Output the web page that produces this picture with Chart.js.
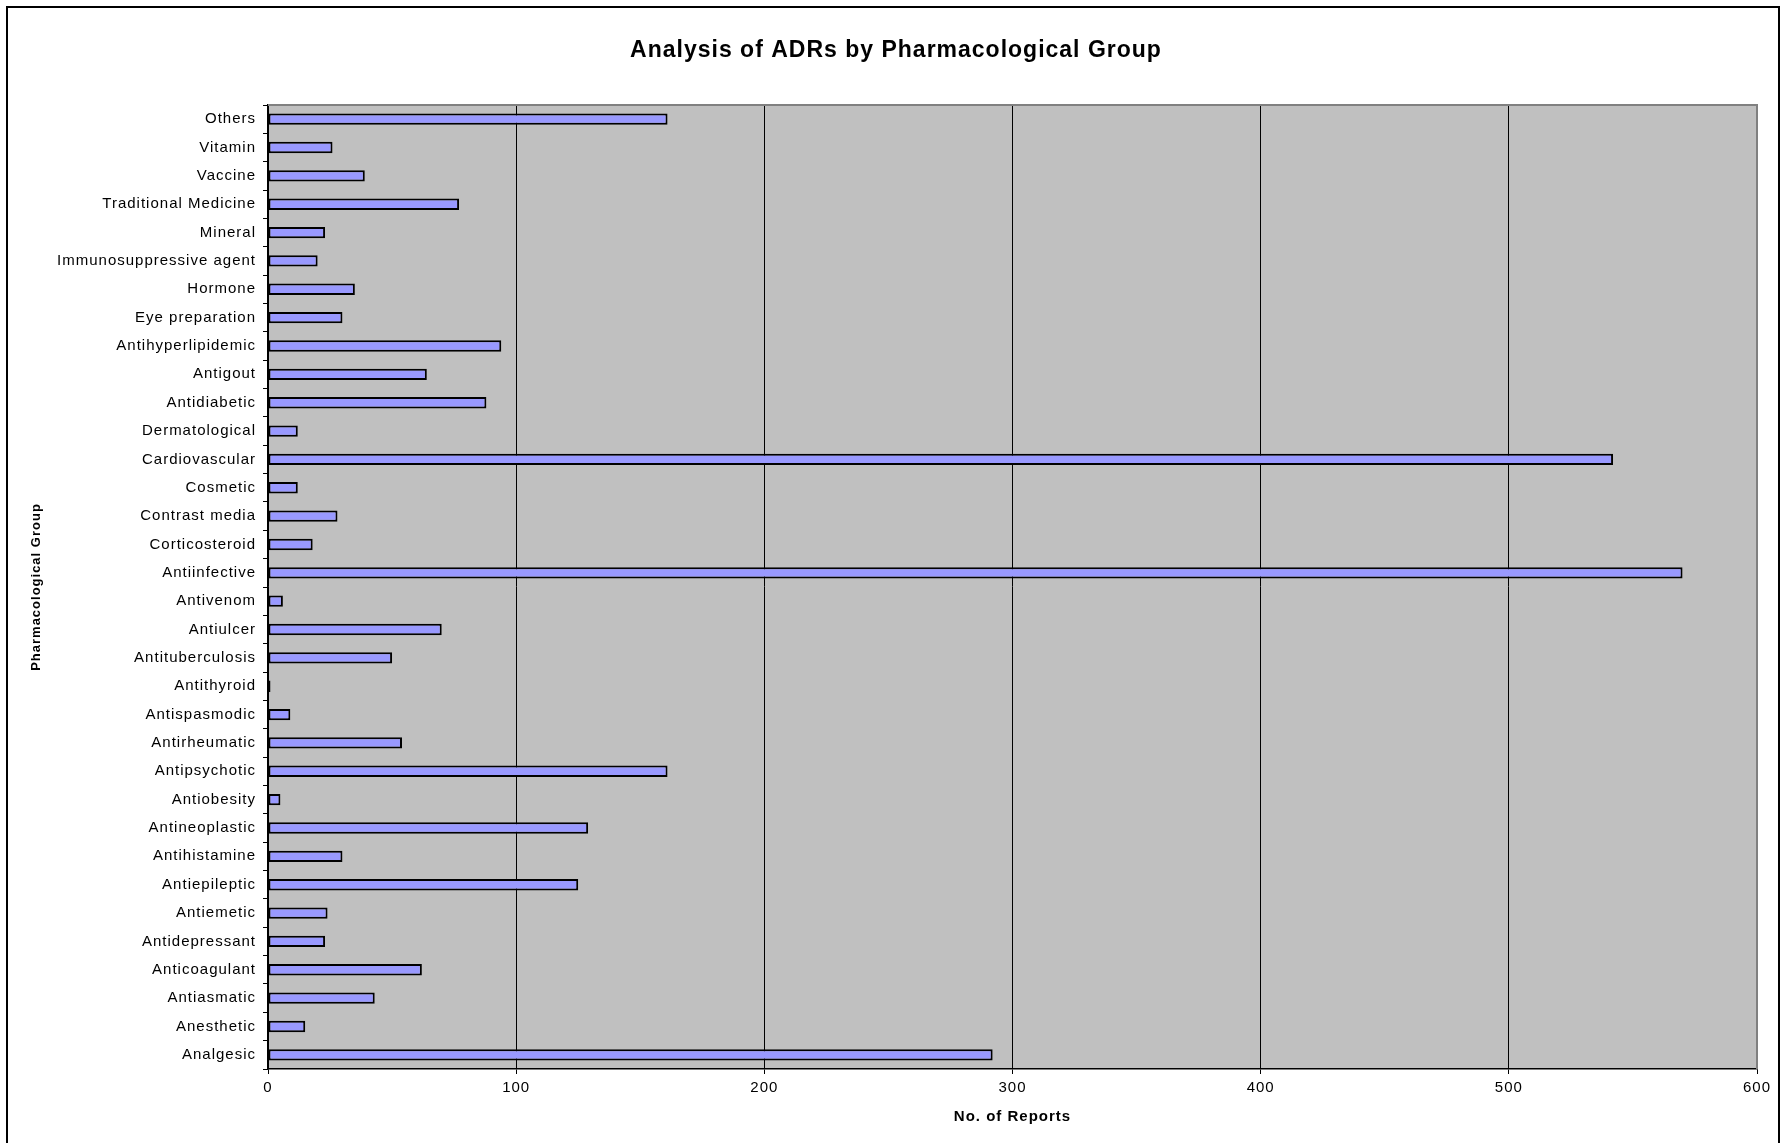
<!DOCTYPE html>
<html>
<head>
<meta charset="utf-8">
<title>Analysis of ADRs by Pharmacological Group</title>
<script src="https://cdn.jsdelivr.net/npm/chart.js@4.4.1/dist/chart.umd.min.js"></script>
<style>
  html, body { margin: 0; padding: 0; background: #fff; }
  #wrap { position: relative; width: 1792px; height: 1143px; overflow: hidden; }
  #frame { position: absolute; left: 6px; top: 6px; width: 1770px; height: 1200px; border: 2px solid #000; pointer-events: none; }
  canvas { position: absolute; left: 0; top: 0; }
</style>
</head>
<body>
<div id="wrap">
  <canvas id="chart" width="1792" height="1143"></canvas>
  <div id="frame"></div>
</div>
<script>
// Pharmacological groups, listed top to bottom as drawn
const groups = [
  'Others', 'Vitamin', 'Vaccine', 'Traditional Medicine', 'Mineral',
  'Immunosuppressive agent', 'Hormone', 'Eye preparation', 'Antihyperlipidemic',
  'Antigout', 'Antidiabetic', 'Dermatological', 'Cardiovascular', 'Cosmetic',
  'Contrast media', 'Corticosteroid', 'Antiinfective', 'Antivenom', 'Antiulcer',
  'Antituberculosis', 'Antithyroid', 'Antispasmodic', 'Antirheumatic',
  'Antipsychotic', 'Antiobesity', 'Antineoplastic', 'Antihistamine',
  'Antiepileptic', 'Antiemetic', 'Antidepressant', 'Anticoagulant',
  'Antiasmatic', 'Anesthetic', 'Analgesic'
];

// Number of ADR reports per group (same order as above)
const reports = [
  161, 26, 39, 77, 23,
  20, 35, 30, 94,
  64, 88, 12, 542, 12,
  28, 18, 570, 6, 70,
  50, 1, 9, 54,
  161, 5, 129, 30,
  125, 24, 23, 62,
  43, 15, 292
];

// Value axis range and tick step
const axisMin = 0;
const axisMax = 600;
const axisStep = 100;

const chartTitle = 'Analysis of ADRs by Pharmacological Group';
const xTitle = 'No. of Reports';
const yTitle = 'Pharmacological Group';

const FONT = "'Liberation Sans', Arial, Helvetica, sans-serif";

// Widely spaced lettering, re-applied whenever the canvas state is reset
const letterSpacing = {
  id: 'letterSpacing',
  beforeLayout(chart) { chart.ctx.letterSpacing = '1px'; },
  beforeDraw(chart) { chart.ctx.letterSpacing = '1px'; }
};

// Grey plotting area with a grey top and right edge
const plotBackground = {
  id: 'plotBackground',
  beforeDraw(chart) {
    const { ctx, chartArea: a } = chart;
    ctx.save();
    ctx.fillStyle = '#C0C0C0';
    ctx.fillRect(a.left, a.top, a.right - a.left, a.bottom - a.top);
    ctx.restore();
  },
  beforeDatasetsDraw(chart) {
    const { ctx, chartArea: a } = chart;
    ctx.save();
    ctx.strokeStyle = '#808080';
    ctx.lineWidth = 2;
    ctx.beginPath();
    ctx.moveTo(a.left, a.top);
    ctx.lineTo(a.right, a.top);
    ctx.lineTo(a.right, a.bottom);
    ctx.stroke();
    ctx.restore();
  }
};

new Chart(document.getElementById('chart'), {
  type: 'bar',
  data: {
    labels: groups,
    datasets: [{
      data: reports,
      backgroundColor: '#9999FF',
      borderColor: '#000000',
      borderWidth: 2,
      borderSkipped: false,
      barPercentage: 0.4,
      categoryPercentage: 1.0
    }]
  },
  options: {
    indexAxis: 'y',
    responsive: false,
    animation: false,
    devicePixelRatio: 1,
    layout: { padding: 0 },
    plugins: {
      legend: { display: false },
      tooltip: { enabled: false },
      title: {
        display: true,
        text: chartTitle,
        color: '#000',
        font: { family: FONT, size: 23, weight: 'bold' },
        padding: { top: 36.8, bottom: 40.6 }
      }
    },
    scales: {
      x: {
        type: 'linear',
        position: 'bottom',
        min: axisMin,
        max: axisMax,
        ticks: {
          stepSize: axisStep,
          color: '#000',
          font: { family: FONT, size: 15 },
          padding: 5
        },
        grid: {
          color: (c) => (c.tick && c.tick.value === axisMax) ? '#808080' : '#000',
          lineWidth: 1,
          drawTicks: true,
          tickLength: 5,
          tickColor: '#000'
        },
        border: { color: '#000', width: 1.5 },
        title: {
          display: true,
          text: xTitle,
          color: '#000',
          font: { family: FONT, size: 15, weight: 'bold' },
          padding: { top: 0, bottom: 17.4 }
        },
        afterFit(scale) { scale.height = 74; }
      },
      y: {
        type: 'category',
        position: 'left',
        ticks: {
          autoSkip: false,
          color: '#000',
          font: { family: FONT, size: 15 },
          padding: 7
        },
        grid: {
          offset: true,
          drawOnChartArea: false,
          drawTicks: true,
          tickLength: 5,
          tickColor: '#000'
        },
        border: { color: '#000', width: 1.5 },
        title: {
          display: true,
          text: yTitle,
          color: '#000',
          font: { family: FONT, size: 13, weight: 'bold' },
          padding: { top: 29, bottom: 0 }
        },
        afterFit(scale) { scale.width = 268; }
      },
      // empty right-hand margin so the title stays centred on the page
      margin: {
        type: 'linear',
        position: 'right',
        display: true,
        ticks: { display: false },
        grid: { display: false, drawTicks: false },
        border: { display: false },
        afterFit(scale) { scale.width = 35; }
      }
    }
  },
  plugins: [letterSpacing, plotBackground]
});
</script>
</body>
</html>
